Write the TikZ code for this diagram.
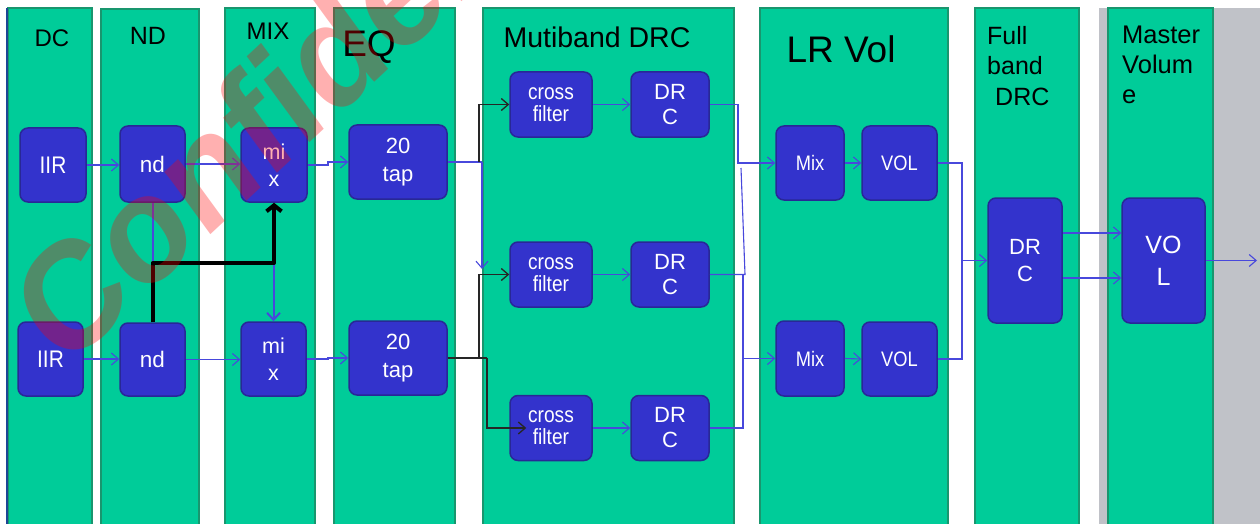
\documentclass[tikz,border=0pt]{standalone}
\usepackage{fontspec}
\setmainfont{Liberation Sans}
\newfontfamily\narrowfont{Liberation Sans}[FakeStretch=0.87]
\usetikzlibrary{arrows.meta}
\definecolor{colfill}{RGB}{0,204,153}
\definecolor{colline}{RGB}{25,150,110}
\definecolor{blkfill}{RGB}{51,51,204}
\definecolor{blkline}{RGB}{40,40,150}
\definecolor{conn}{RGB}{72,72,220}
\definecolor{grayband}{RGB}{192,194,200}
\definecolor{navy}{RGB}{30,70,150}
\newcommand\fsz[2]{\fontsize{#1}{#2}\selectfont}
\newcommand\nfsz[2]{\narrowfont\fontsize{#1}{#2}\selectfont}
\begin{document}
\begin{tikzpicture}[x=1pt,y=-1pt,
  col/.style={draw=colline, line width=2pt, fill=colfill},
  blk/.style={draw=blkline, line width=1.5pt, fill=blkfill, rounded corners=8pt,
    text=white, align=center, inner sep=0pt},
  ttl/.style={text=black, inner sep=0pt},
  ln/.style={draw=conn, line width=1.1pt},
  ar/.style={ln, -{Straight Barb[length=7pt,width=12pt]}},
  bk/.style={draw=black!85, line width=1.3pt},
  bkar/.style={bk, -{Straight Barb[length=7pt,width=12pt]}}]
\fill[white] (0,0) rectangle (1260,524);
\useasboundingbox (0,0) rectangle (1260,524);
% background band
\fill[grayband] (1099,8) rectangle (1262,530);
% columns
\draw[col] (8,8) rectangle (92,530);
\draw[navy, line width=2pt] (7,8) -- (7,530);
\draw[col] (101,9) rectangle (199,530);
\draw[col] (225,8) rectangle (315,530);
\draw[col] (334,8) rectangle (455,530);
\draw[col] (483,8) rectangle (734,530);
\draw[col] (760,8) rectangle (948,530);
\draw[col] (975,8) rectangle (1079,530);
\draw[col] (1108,8) rectangle (1213,530);
% titles
\node[ttl, font=\fsz{24}{29}] (tdc) at (52,38) {DC};
\node[ttl, font=\fsz{25}{30}] (tnd) at (148,36) {ND};
\node[ttl, font=\fsz{24}{29}] (tmix) at (268,31) {MIX};
\node[ttl, font=\fsz{37}{44}] (teq) at (369,47) {EQ};
\node[ttl, font=\fsz{28.5}{34}] (tmb) at (597,37) {Mutiband DRC};
\node[ttl, font=\fsz{37}{44}] (tlr) at (841,49.5) {LR Vol};
\node[ttl, font=\fsz{25}{30.5}, align=left, anchor=north west] (tfb) at (987,26) {Full\\band\\\hspace*{8pt}DRC};
\node[ttl, font=\fsz{25.5}{30}, align=left, anchor=north west] (tmv) at (1122,25.5) {Master\\Volum\\e};
% blocks
\node[blk, minimum width=66pt, minimum height=74pt, font=\nfsz{24}{27}] (iir1) at (53,165) {IIR};
\node[blk, minimum width=65pt, minimum height=74pt, font=\nfsz{24}{27}] (iir2) at (50.5,359) {IIR};
\node[blk, minimum width=65pt, minimum height=76pt, font=\fsz{22.5}{27}] (nd1) at (152.5,164) {nd};
\node[blk, minimum width=65pt, minimum height=73pt, font=\fsz{22.5}{27}] (nd2) at (152.5,359.5) {nd};
\node[blk, minimum width=66pt, minimum height=74pt, font=\fsz{21.5}{27}] (mix1) at (274,165) {mi\\x};
\node[blk, minimum width=65pt, minimum height=74pt, font=\fsz{21.5}{27}] (mix2) at (273.5,359) {mi\\x};
\node[blk, minimum width=98pt, minimum height=74pt, font=\fsz{22}{28}] (tap1) at (398,162) {20\\tap};
\node[blk, minimum width=98pt, minimum height=74pt, font=\fsz{22}{28}] (tap2) at (398,358) {20\\tap};
\node[blk, minimum width=82pt, minimum height=65pt, font=\nfsz{22}{22}] (cf1) at (551,104.5) {cross\\filter};
\node[blk, minimum width=78pt, minimum height=65pt, font=\fsz{22}{25}] (drc1) at (670,104.5) {DR\\C};
\node[blk, minimum width=82pt, minimum height=65pt, font=\nfsz{22}{22}] (cf2) at (551,274.5) {cross\\filter};
\node[blk, minimum width=78pt, minimum height=65pt, font=\fsz{22}{25}] (drc2) at (670,274.5) {DR\\C};
\node[blk, minimum width=82pt, minimum height=65pt, font=\nfsz{22}{22}] (cf3) at (551,428) {cross\\filter};
\node[blk, minimum width=78pt, minimum height=65pt, font=\fsz{22}{25}] (drc3) at (670,428) {DR\\C};
\node[blk, minimum width=68pt, minimum height=74pt, font=\nfsz{21}{23}] (lmix1) at (810,163) {Mix};
\node[blk, minimum width=75pt, minimum height=74pt, font=\nfsz{21}{23}] (vol1) at (899.5,163) {VOL};
\node[blk, minimum width=68pt, minimum height=75pt, font=\nfsz{21}{23}] (lmix2) at (810,358.5) {Mix};
\node[blk, minimum width=75pt, minimum height=74pt, font=\nfsz{21}{23}] (vol2) at (899.5,359) {VOL};
\node[blk, minimum width=74pt, minimum height=125pt, font=\fsz{22}{27}] (fdrc) at (1025,260.5) {DR\\C};
\node[blk, minimum width=83pt, minimum height=125pt, font=\fsz{25}{32}] (mvol) at (1163.5,260.5) {VO\\L};
% connectors: DC / ND / MIX / EQ
\draw[ar] (iir1.east) -- (iir1.east -| nd1.west);
\draw[ar] (nd1.east) -- (nd1.east -| mix1.west);
\draw[ar] (mix1.east) -- (328,165) -- (328,162) -- (tap1.west);
\draw[ar] (iir2.east) -- (iir2.east -| nd2.west);
\draw[ar] (nd2.east) -- (nd2.east -| mix2.west);
\draw[ar] (mix2.east) -- (328,359) -- (328,358) -- (tap2.west);
\coordinate (jn) at (152.5,263);
\coordinate (jm) at (273.5,263);
\draw[draw=conn, line width=2pt, -{Straight Barb[length=7pt,width=13pt]}] (nd1.south) -- (jn) -- (jm) -- (mix2.north);
\draw[black, line width=4pt, line join=round, -{Straight Barb[length=6pt,width=15pt]}] (nd2.north) -- (jn) -- (274,263) -- (mix1.south);
% EQ to multiband
\coordinate (s1) at (482,162);
\coordinate (b1) at (479,162);
\draw[ln] (tap1.east) -- (s1);
\draw[ar] (s1) -- (482,269);
\draw[bkar] (b1) |- (cf1.west);
\coordinate (b2) at (479,358);
\coordinate (b3) at (487,358);
\draw[bk] (tap2.east) -- (b3);
\draw[bkar] (b2) |- (cf2.west);
\draw[bkar] (b3) |- ([xshift=17pt]cf3.west);
% multiband internal
\draw[ar] (cf1.east) -- (drc1.west);
\draw[ar] (cf2.east) -- (drc2.west);
\draw[ar] (cf3.east) -- (drc3.west);
% multiband to LR Vol
\draw[ar] (drc1.east) -- (738,104.5) -- (738,163) -- (lmix1.west);
\draw[ln] (drc2.east) -- (745,274.5) -- (741,168);
\coordinate (m2) at (743,358.5);
\draw[ln] (drc2.east) -| (m2);
\draw[ln] (drc3.east) -| (m2);
\draw[ar] (m2) -- (lmix2.west);
% LR Vol
\draw[ar] (lmix1.east) -- (vol1.west);
\draw[ar] (lmix2.east) -- (vol2.west);
\coordinate (f1) at (962,260.5);
\draw[ln] (vol1.east) -| (f1);
\draw[ln] (vol2.east) -| (f1);
\draw[ar] (f1) -- (fdrc.west);
% full band to master
\draw[ar] (fdrc.east |- 0,233) -- (mvol.west |- 0,233);
\draw[ar] (fdrc.east |- 0,278) -- (mvol.west |- 0,278);
\coordinate (outp) at (1257,260.5);
\draw[ar] (mvol.east) -- (outp);
% watermark
\begin{scope}
\clip (0,0) rectangle (1260,524);
\begin{scope}[shift={(63.4,372.3)}, yscale=1.13]
\node[anchor=base west, rotate=39.5, transform shape, text=red, opacity=0.31, inner sep=0pt,
  font=\fontsize{136}{136}\bfseries\selectfont] (wm) at (0,0) {Confidential};
\end{scope}
\end{scope}
\end{tikzpicture}
\end{document}
